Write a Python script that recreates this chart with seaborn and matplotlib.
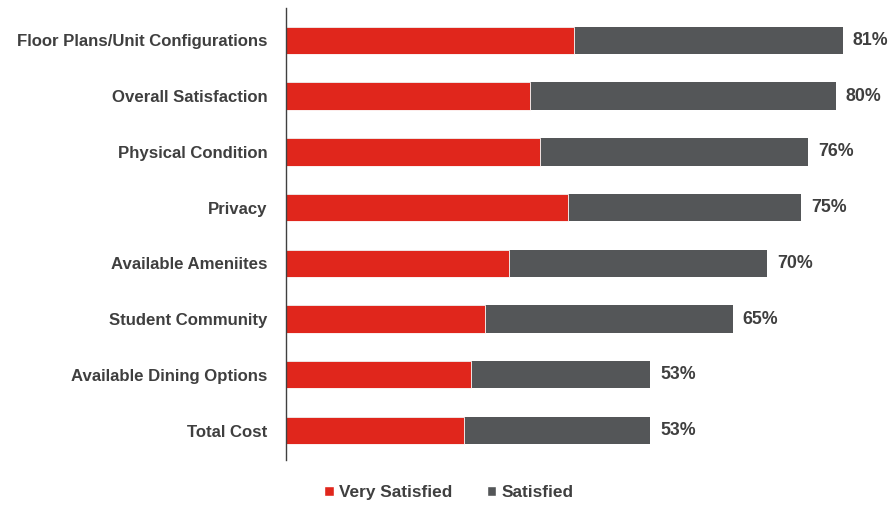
import matplotlib
matplotlib.use("Agg")
import matplotlib.pyplot as plt
import seaborn as sns
import pandas as pd
from matplotlib.patches import Patch

categories = [
    "Floor Plans/Unit Configurations",
    "Overall Satisfaction",
    "Physical Condition",
    "Privacy",
    "Available Ameniites",
    "Student Community",
    "Available Dining Options",
    "Total Cost",
]
very_satisfied = [42, 35.5, 37, 41, 32.5, 29, 27, 26]
satisfied = [39, 44.5, 39, 34, 37.5, 36, 26, 27]
totals = [v + s for v, s in zip(very_satisfied, satisfied)]

RED = "#E0261C"
GREY = "#545658"
TEXT = "#3F3F3F"

sns.set_theme(style="white")
plt.rcParams["font.family"] = ["Liberation Sans", "DejaVu Sans"]

df = pd.DataFrame({"category": categories, "very": very_satisfied, "total": totals})

fig = plt.figure(figsize=(8.89, 5.05), dpi=100)
ax = fig.add_axes([0.3212, 0.089, 0.66, 0.895])

# Full bar (very satisfied + satisfied) in grey, very satisfied overlaid in red
sns.barplot(data=df, x="total", y="category", color=GREY, width=0.49,
            saturation=1, ax=ax, edgecolor="none")
sns.barplot(data=df, x="very", y="category", color=RED, width=0.49,
            saturation=1, ax=ax, edgecolor="white", linewidth=0.6)

for i, t in enumerate(totals):
    ax.text(t + 1.45, i, f"{t:.0f}%", va="center", ha="left",
            fontsize=12.8, fontweight="bold", color=TEXT)

ax.set_xlim(0, 85.3)
ax.set_ylim(7.53, -0.58)
ax.set_xlabel("")
ax.set_ylabel("")
ax.set_xticks([])
ax.tick_params(axis="y", length=0, pad=13)
for lbl in ax.get_yticklabels():
    lbl.set_fontsize(12.1)
    lbl.set_fontweight("bold")
    lbl.set_color(TEXT)

for side in ["top", "right", "bottom"]:
    ax.spines[side].set_visible(False)
ax.spines["left"].set_color("#404040")
ax.spines["left"].set_linewidth(1.0)

handles = [Patch(facecolor=RED, label="Very Satisfied"),
           Patch(facecolor=GREY, label="Satisfied")]
leg = fig.legend(handles=handles, loc="center", bbox_to_anchor=(0.505, 0.024),
                 ncol=2, frameon=False, handlelength=0.55, handleheight=0.55,
                 handletextpad=0.3, columnspacing=2.0,
                 prop={"size": 12.4, "weight": "bold"})
for t in leg.get_texts():
    t.set_color(TEXT)

fig.savefig("out.png", dpi=100, facecolor="white")
